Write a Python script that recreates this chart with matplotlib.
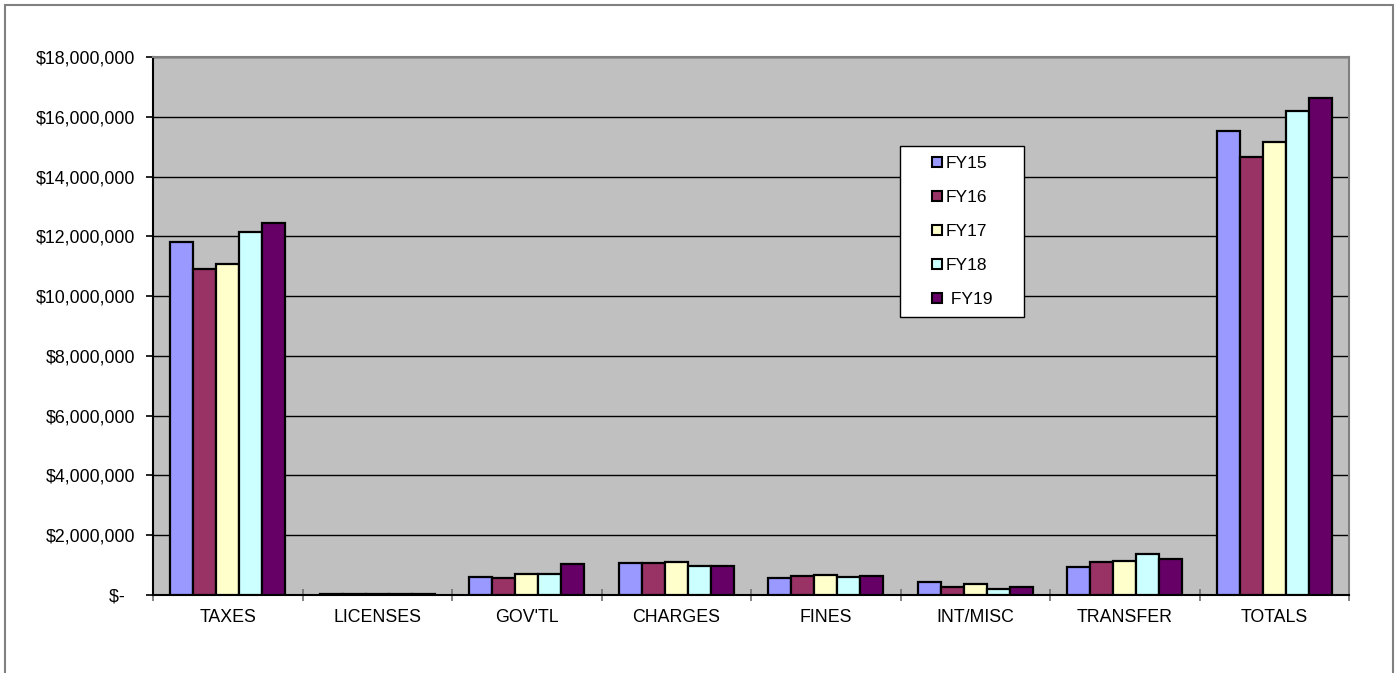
import matplotlib
matplotlib.use("Agg")
import matplotlib.pyplot as plt
import numpy as np
from matplotlib.patches import Rectangle
from matplotlib.lines import Line2D
from matplotlib.ticker import FuncFormatter, MultipleLocator

plt.rcParams['font.family'] = ['Liberation Sans', 'DejaVu Sans']

categories = ["TAXES", "LICENSES", "GOV'TL", "CHARGES", "FINES", "INT/MISC", "TRANSFER", "TOTALS"]
series_names = ["FY15", "FY16", "FY17", "FY18", "FY19"]
fy15 = [11810000, 40000, 600000, 1070000, 580000, 420000, 930000, 15520000]
fy16 = [10910000, 45000, 580000, 1060000, 650000, 260000, 1090000, 14650000]
fy17 = [11070000, 40000, 700000, 1110000, 680000, 360000, 1140000, 15160000]
fy18 = [12140000, 35000, 700000, 980000, 600000, 210000, 1380000, 16190000]
fy19 = [12460000, 35000, 1030000, 960000, 620000, 260000, 1200000, 16630000]
series_values = [fy15, fy16, fy17, fy18, fy19]
colors = ["#9999FF", "#993366", "#FFFFCC", "#CCFFFF", "#660066"]

W, H = 1397, 673
fig = plt.figure(figsize=(W / 100, H / 100), dpi=100)
ax = fig.add_axes([153 / W, 1 - 595 / H, (1349 - 153) / W, (595 - 57) / H])
ax.set_facecolor("#C0C0C0")

n = len(series_names)
bar_w = 1 / 6.5
x = np.arange(len(categories))
for i, (name, vals, c) in enumerate(zip(series_names, series_values, colors)):
    offs = (i - (n - 1) / 2) * bar_w
    ax.bar(x + offs, vals, width=bar_w, color=c, edgecolor="black",
           linewidth=1.6, label=name, zorder=3)

ax.set_xlim(-0.5, len(categories) - 0.5)
ax.set_ylim(0, 18000000)

ax.yaxis.set_major_locator(MultipleLocator(2000000))
ax.yaxis.set_major_formatter(FuncFormatter(
    lambda v, p: "$-  " if v == 0 else "${:,.0f}".format(v)))
ax.grid(axis="y", color="black", linewidth=1.0, zorder=1)
ax.set_axisbelow(True)

ax.set_xticks(x)
ax.set_xticklabels(categories)
ax.set_xticks(np.arange(-0.5, len(categories)), minor=True)
ax.tick_params(axis="x", which="major", length=0, pad=10, labelsize=12.8)
ax.tick_params(axis="x", which="minor", length=9, direction="inout",
               color="#707070", width=1.2)
ax.tick_params(axis="y", which="major", length=5, direction="out",
               width=1.2, pad=8, labelsize=12.8)

for side in ["left", "bottom"]:
    ax.spines[side].set_color("black")
    ax.spines[side].set_linewidth(1.5)
for side in ["top", "right"]:
    ax.spines[side].set_color("#808080")
    ax.spines[side].set_linewidth(1.5)

# legend with small square swatches
handles = [Line2D([0], [0], marker="s", linestyle="none", markersize=7,
                  markerfacecolor=c, markeredgecolor="black",
                  markeredgewidth=1.5) for c in colors]
labels = ["FY15", "FY16", "FY17", "FY18", " FY19"]
leg = fig.legend(handles, labels, loc="upper left",
                 bbox_to_anchor=(900 / W, 1 - 146 / H, (1024 - 900) / W, 0),
                 mode="expand", fontsize=12.5, frameon=True, fancybox=False,
                 framealpha=1, handlelength=3.1, handletextpad=-1.05,
                 borderpad=0.58, labelspacing=1.08, borderaxespad=0)
leg.get_frame().set_edgecolor("black")
leg.get_frame().set_facecolor("white")
leg.get_frame().set_linewidth(1.0)

# outer chart border
fig.patches.append(Rectangle((5 / W, -0.05), (1393 - 5) / W, 1.05 - 5 / H,
                             transform=fig.transFigure, fill=False,
                             edgecolor="#808080", linewidth=1.5))

fig.savefig("out.png", dpi=100, facecolor="white")
